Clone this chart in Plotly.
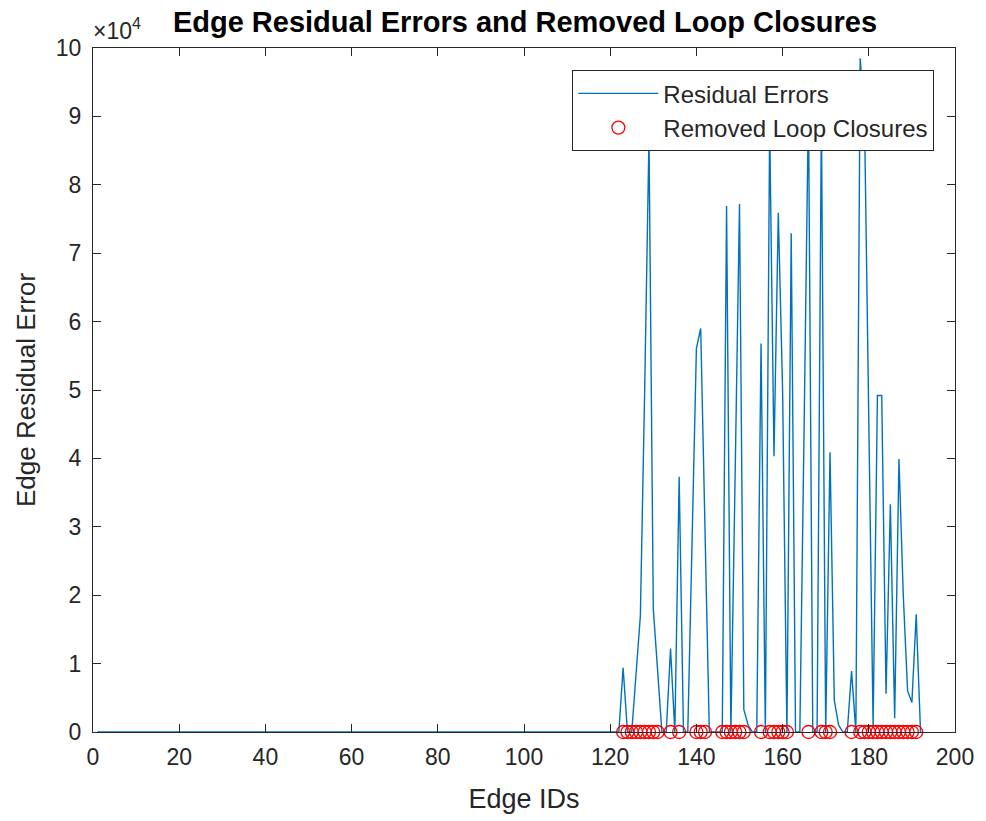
import plotly.graph_objects as go

# Edge IDs 1..192; residual errors are ~0 up to edge 121
edge_ids = list(range(1, 193))
zero_part = [0.0] * 121
# residual errors for edges 122..192 (in units of 1e4)
tail_e4 = [0, 0.94, 0, 0, 0.8, 1.7, 5.0, 8.7, 1.8, 0.9,
           0, 0, 1.22, 0, 3.73, 0, 0, 2.8, 5.61, 5.9,
           3.0, 0, 0, 0, 0, 7.69, 0, 3.8, 7.72, 0.33,
           0.1, 0, 0, 5.68, 0, 8.9, 4.03, 7.59, 5.0, 0,
           7.29, 0, 0, 4.5, 9.2, 0, 0, 9.0, 0, 4.09,
           0.46, 0.1, 0, 0, 0.89, 0, 9.85, 9.0, 4.5, 0.1,
           4.92, 4.92, 0.56, 3.33, 0.2, 3.99, 2.0, 0.6, 0.43, 1.72,
           0]
residuals = zero_part + [v * 1e4 for v in tail_e4]

removed_ids = [123, 124, 125, 126, 127, 128, 129, 130, 131,
               134, 136, 140, 141, 142,
               146, 147, 148, 149, 150, 151,
               155, 157, 158, 159, 160, 161,
               166, 169, 170, 171,
               176, 178, 179, 180, 181, 182, 183, 184, 185, 186,
               187, 188, 189, 190, 191]
removed_vals = [0] * len(removed_ids)

x_ticks = [0, 20, 40, 60, 80, 100, 120, 140, 160, 180, 200]
y_tickvals = [i * 1e4 for i in range(11)]
y_ticktext = [str(i) for i in range(11)]

FONT = "Liberation Sans, Arial, Helvetica"
GRAY = "#262626"

fig = go.Figure()
fig.add_trace(go.Scatter(x=edge_ids, y=residuals, mode="lines",
                         name="Residual Errors",
                         line=dict(color="#0072BD", width=1.4)))
fig.add_trace(go.Scatter(x=removed_ids, y=removed_vals, mode="markers",
                         name="Removed Loop Closures",
                         marker=dict(symbol="circle-open", color="#FF0000",
                                     size=13, line=dict(width=1.3)),
                         cliponaxis=False))

axis_common = dict(showgrid=False, zeroline=False, showline=True,
                   linecolor=GRAY, linewidth=1.3, mirror="ticks",
                   ticks="inside", ticklen=8, tickcolor=GRAY, tickwidth=1,
                   tickfont=dict(family=FONT, size=23, color=GRAY))

fig.update_xaxes(range=[0, 200], tickvals=x_ticks, ticklabelstandoff=4,
                 title=dict(text="Edge IDs", font=dict(family=FONT, size=27, color=GRAY),
                            standoff=20),
                 **axis_common)
fig.update_yaxes(range=[0, 1e5], tickvals=y_tickvals, ticktext=y_ticktext,
                 ticklabelstandoff=6,
                 title=dict(text="Edge Residual Error",
                            font=dict(family=FONT, size=26, color=GRAY),
                            standoff=12),
                 **axis_common)

fig.update_layout(
    width=986, height=821,
    margin=dict(l=93, r=28, t=48, b=89),
    plot_bgcolor="white", paper_bgcolor="white",
    title=dict(text="<b>Edge Residual Errors and Removed Loop Closures</b>",
               x=525 / 986, xanchor="center", y=1 - 22 / 821, yanchor="middle",
               font=dict(family=FONT, size=29, color="black")),
    legend=dict(x=(937 - 93) / 865, xanchor="right", y=(732 - 70) / 684, yanchor="top",
                bgcolor="white", bordercolor=GRAY, borderwidth=1.3,
                font=dict(family=FONT, size=24, color=GRAY),
                itemwidth=80, tracegroupgap=0),
    showlegend=True,
)

fig.add_annotation(xref="paper", yref="paper", x=0.0, y=1.0, xanchor="left",
                   yanchor="bottom", yshift=2, xshift=-2, showarrow=False,
                   text="×10<sup>4</sup>",
                   font=dict(family=FONT, size=23, color=GRAY))

fig.write_html("out.html", config={"displayModeBar": False},
               post_script="document.body.style.margin='0';")
